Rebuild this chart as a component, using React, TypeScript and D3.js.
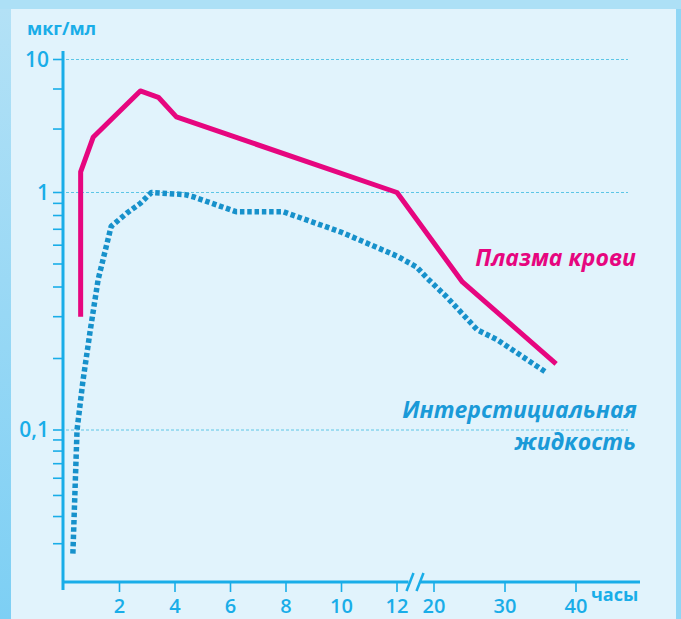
import { useRef, useEffect } from 'react'
import * as d3 from 'd3'

// Концентрация в плазме крови (сплошная линия)
const plasmaHours = [0.6, 0.6, 1.05, 2.75, 3.4, 4.05, 12, 24, 37.2]
const plasmaValues = [0.3, 1.43, 2.6, 5.8, 5.2, 3.7, 1.0, 0.42, 0.19]

// Концентрация в интерстициальной жидкости (точечная линия)
const fluidHours = [0.32, 0.47, 0.68, 0.94, 1.23, 1.7, 2.27, 2.75, 3.15, 4.35, 4.65, 6.2, 7.9, 10, 12, 16.3, 18.5, 21.8, 26.1, 28.9, 35.9]
const fluidValues = [0.027, 0.1, 0.16, 0.26, 0.43, 0.72, 0.82, 0.9, 1.0, 0.98, 0.96, 0.83, 0.83, 0.68, 0.54, 0.485, 0.436, 0.363, 0.264, 0.24, 0.174]

const xTicks = [2, 4, 6, 8, 10, 12, 20, 30, 40]
const yMajorTicks = [10, 1, 0.1]
const yMajorLabels = ['10', '1', '0,1']
const yMinorTicks = [6, 3, 0.9, 0.8, 0.7, 0.6, 0.5, 0.4, 0.3, 0.2, 0.09, 0.08, 0.07, 0.06, 0.05, 0.04, 0.03]

const width = 681
const height = 619
const axisColor = '#19ade8'
const pink = '#e6067f'
const blue = '#1791cb'
const font = '"Open Sans", "DejaVu Sans", sans-serif'

export default function App() {
  const svgRef = useRef<SVGSVGElement>(null)

  useEffect(() => {
    document.body.style.margin = '0'
    if (!svgRef.current) return
    const svg = d3.select(svgRef.current)
    svg.selectAll('*').remove()

    // шкала времени с разрывом между 12 и 20 часами
    const x = d3.scaleLinear().domain([0, 12, 20, 40]).range([64, 397, 434, 576])
    // логарифмическая шкала, верхняя декада сжата
    const y = d3.scaleLog().domain([0.02, 0.1, 1, 10]).range([582, 430, 192.5, 59.5])

    // фон
    const defs = svg.append('defs')
    const grad = defs.append('linearGradient').attr('id', 'side').attr('x1', 0).attr('y1', 0).attr('x2', 0).attr('y2', 1)
    grad.append('stop').attr('offset', '0%').attr('stop-color', '#b3e1f6')
    grad.append('stop').attr('offset', '100%').attr('stop-color', '#7dcff4')

    svg.append('rect').attr('width', width).attr('height', height).attr('fill', '#ade0f6')
    svg.append('rect').attr('x', 0).attr('y', 9).attr('width', 11).attr('height', height - 9).attr('fill', 'url(#side)')
    svg.append('rect').attr('x', 676).attr('y', 9).attr('width', 5).attr('height', height - 9).attr('fill', '#8fd6f5')
    svg.append('rect').attr('x', 11).attr('y', 9).attr('width', 665).attr('height', height - 9).attr('fill', '#e1f3fc')

    // сетка
    svg.append('g')
      .selectAll('line')
      .data(yMajorTicks)
      .enter()
      .append('line')
      .attr('x1', 66)
      .attr('x2', 628)
      .attr('y1', d => y(d))
      .attr('y2', d => y(d))
      .attr('stroke', '#5cc6e6')
      .attr('stroke-width', 1)
      .attr('stroke-dasharray', '3,2')

    // оси
    svg.append('line')
      .attr('x1', 63).attr('x2', 63)
      .attr('y1', 51).attr('y2', 590)
      .attr('stroke', axisColor).attr('stroke-width', 3)

    svg.append('line')
      .attr('x1', 63).attr('x2', 640)
      .attr('y1', 582).attr('y2', 582)
      .attr('stroke', axisColor).attr('stroke-width', 3)

    // деления оси Y
    svg.append('g')
      .selectAll('line')
      .data([...yMajorTicks, ...yMinorTicks])
      .enter()
      .append('line')
      .attr('x1', 53).attr('x2', 63)
      .attr('y1', d => y(d)).attr('y2', d => y(d))
      .attr('stroke', axisColor).attr('stroke-width', 1.6)

    svg.append('g')
      .selectAll('text')
      .data(yMajorTicks)
      .enter()
      .append('text')
      .attr('x', 49)
      .attr('y', d => y(d) + 7)
      .attr('text-anchor', 'end')
      .attr('fill', axisColor)
      .attr('font-family', font)
      .attr('font-weight', 600)
      .attr('font-size', 21)
      .text((_, i) => yMajorLabels[i])

    svg.append('text')
      .attr('x', 27).attr('y', 35)
      .attr('fill', axisColor)
      .attr('font-family', font)
      .attr('font-weight', 700)
      .attr('font-size', 18)
      .text('мкг/мл')

    // деления оси X
    svg.append('g')
      .selectAll('line')
      .data(xTicks)
      .enter()
      .append('line')
      .attr('x1', d => x(d)).attr('x2', d => x(d))
      .attr('y1', 582).attr('y2', 592)
      .attr('stroke', axisColor).attr('stroke-width', 1.6)

    svg.append('g')
      .selectAll('text')
      .data(xTicks)
      .enter()
      .append('text')
      .attr('x', d => x(d))
      .attr('y', 613)
      .attr('text-anchor', 'middle')
      .attr('fill', axisColor)
      .attr('font-family', font)
      .attr('font-weight', 600)
      .attr('font-size', 20)
      .text(d => String(d))

    svg.append('text')
      .attr('x', 591).attr('y', 601)
      .attr('fill', axisColor)
      .attr('font-family', font)
      .attr('font-weight', 700)
      .attr('font-size', 18)
      .text('часы')

    // знак разрыва
    const bx = (x(12) + x(20)) / 2
    const brk = svg.append('g')
    brk.append('rect').attr('x', bx - 7).attr('y', 578).attr('width', 12).attr('height', 8).attr('fill', '#e1f3fc')
    ;[-5, 5].forEach(dx => {
      brk.append('line')
        .attr('x1', bx + dx - 4).attr('y1', 591)
        .attr('x2', bx + dx + 3).attr('y2', 573)
        .attr('stroke', axisColor).attr('stroke-width', 2.5)
    })

    const line = d3.line<[number, number]>()
      .x(d => x(d[0]))
      .y(d => y(d[1]))

    // интерстициальная жидкость
    svg.append('path')
      .datum(fluidHours.map((h, i) => [h, fluidValues[i]] as [number, number]))
      .attr('d', line)
      .attr('fill', 'none')
      .attr('stroke', blue)
      .attr('stroke-width', 5.5)
      .attr('stroke-dasharray', '4.5,2.8')
      .attr('stroke-linejoin', 'round')

    // плазма крови
    svg.append('path')
      .datum(plasmaHours.map((h, i) => [h, plasmaValues[i]] as [number, number]))
      .attr('d', line)
      .attr('fill', 'none')
      .attr('stroke', pink)
      .attr('stroke-width', 5)
      .attr('stroke-linejoin', 'round')

    // подписи серий
    const labelStyle = (t: d3.Selection<SVGTextElement, unknown, null, undefined>) => t
      .attr('text-anchor', 'end')
      .attr('font-family', font)
      .attr('font-style', 'italic')
      .attr('font-weight', 700)
      .attr('font-size', 23)

    svg.append('text')
      .attr('x', 636).attr('y', 266)
      .attr('fill', pink)
      .call(labelStyle)
      .text('Плазма крови')

    svg.append('text')
      .attr('x', 637).attr('y', 418)
      .attr('fill', '#1a9ad8')
      .call(labelStyle)
      .text('Интерстициальная')

    svg.append('text')
      .attr('x', 636).attr('y', 450)
      .attr('fill', '#1a9ad8')
      .call(labelStyle)
      .text('жидкость')
  }, [])

  return <svg ref={svgRef} width={width} height={height} style={{ display: 'block' }} />
}
